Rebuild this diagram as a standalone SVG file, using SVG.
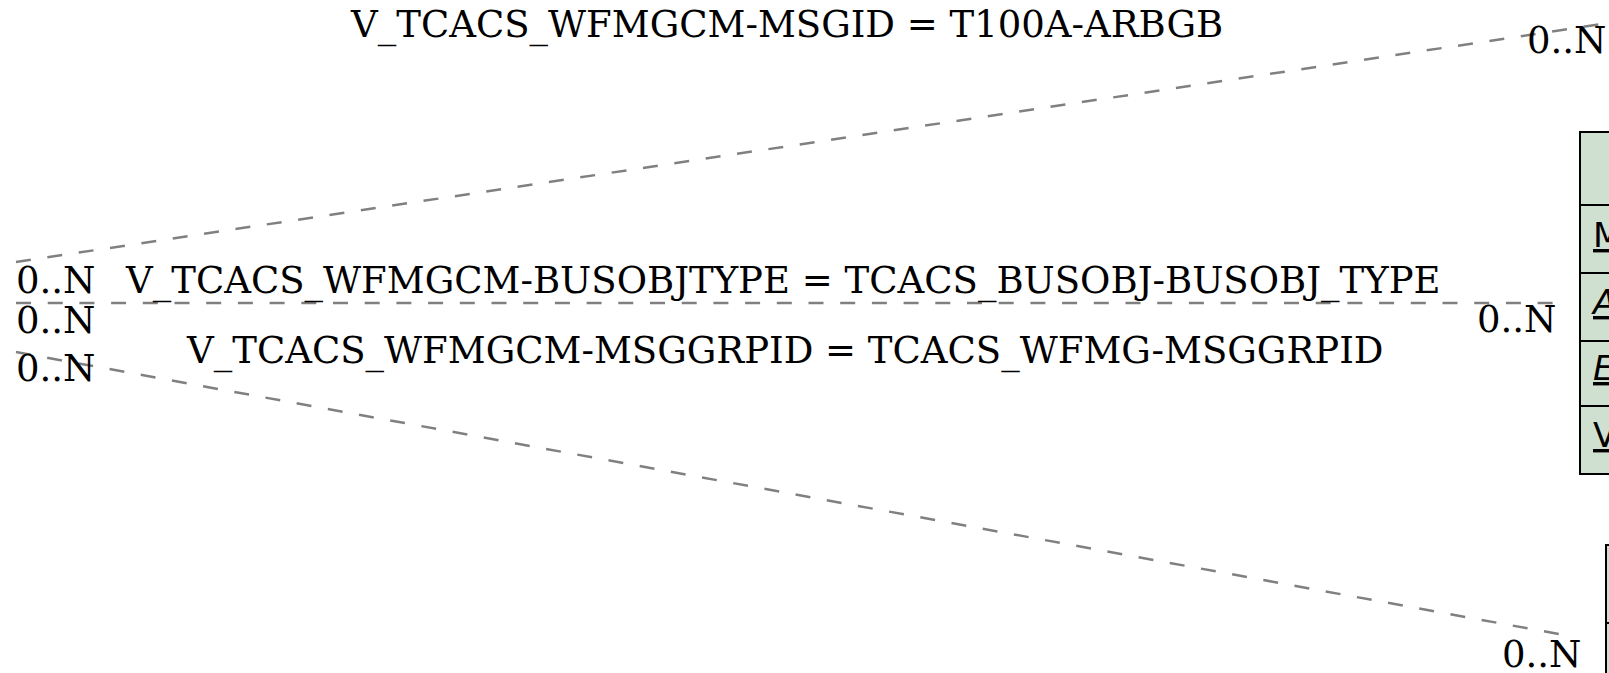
<svg xmlns="http://www.w3.org/2000/svg" width="1609" height="673" viewBox="0 0 1609 673">
<style>
.t{font-family:"DejaVu Serif","Liberation Serif",serif;font-size:37px;fill:#000}
.f{font-family:"DejaVu Sans","Liberation Sans",sans-serif;font-size:34px;fill:#000;text-decoration:underline}
.c{stroke:#808080;stroke-width:2.5;stroke-dasharray:15 16.7;fill:none}
.box{fill:#d0e0d0;stroke:#000;stroke-width:2}
</style>
<rect width="1609" height="673" fill="#fff"/>
<g id="connectors">
<line class="c" x1="16" y1="262" x2="1609" y2="23"/>
<line class="c" x1="16" y1="303" x2="1557" y2="303"/>
<line class="c" x1="16" y1="352" x2="1575" y2="637"/>
</g>
<g id="labels">
<text class="t" x="351" y="37">V_TCACS_WFMGCM-MSGID = T100A-ARBGB</text>
<text class="t" x="126" y="293">V_TCACS_WFMGCM-BUSOBJTYPE = TCACS_BUSOBJ-BUSOBJ_TYPE</text>
<text class="t" x="187" y="363">V_TCACS_WFMGCM-MSGGRPID = TCACS_WFMG-MSGGRPID</text>
<text class="t" x="16" y="293">0..N</text>
<text class="t" x="16" y="333">0..N</text>
<text class="t" x="16" y="381">0..N</text>
<text class="t" x="1527" y="53">0..N</text>
<text class="t" x="1477" y="332">0..N</text>
<text class="t" x="1502" y="667">0..N</text>
</g>
<g id="node_wfmgcm">
<rect class="box" x="1580" y="132" width="100" height="73"/>
<rect class="box" x="1580" y="205" width="100" height="68"/>
<rect class="box" x="1580" y="273" width="100" height="68"/>
<rect class="box" x="1580" y="341" width="100" height="65"/>
<rect class="box" x="1580" y="406" width="100" height="68"/>
<text class="f" x="1593" y="247">M</text>
<text class="f" x="1593" y="314" font-style="italic">A</text>
<text class="f" x="1593" y="380" font-style="italic">E</text>
<text class="f" x="1593" y="447">V</text>
</g>
<g id="node_bottom">
<rect class="box" x="1606" y="545" width="100" height="78"/>
<rect class="box" x="1606" y="623" width="100" height="78"/>
</g>
</svg>
